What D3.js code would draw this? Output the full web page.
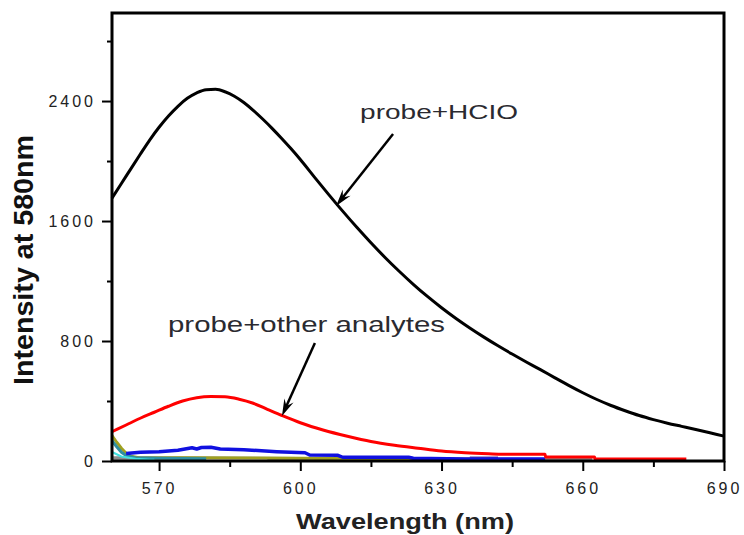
<!DOCTYPE html>
<html>
<head>
<meta charset="utf-8">
<script src="https://cdn.jsdelivr.net/npm/d3@7"></script>
<style>
  html, body { margin: 0; padding: 0; background: #fff; }
  svg { display: block; }
</style>
</head>
<body>
<svg id="chart" width="744" height="535"></svg>
<script>
// ---------------- data ----------------
const xTicks = [570, 600, 630, 660, 690];
const yTicks = [0, 800, 1600, 2400];
const xMinorTicks = [585, 615, 645, 675];
const yMinorTicks = [400, 1200, 2000, 2800];

const hcioWl = [560,562,564,566,568,570,572,574,576,578,580,582,584,586,588,590,592,594,596,598,600,603,606,609,612,615,618,621,624,627,630,633,636,639,642,645,648,651,654,657,660,663,666,669,672,675,678,681,684,687,690];
const hcioI  = [1753,1850,1948,2045,2140,2225,2300,2365,2418,2455,2476,2478,2462,2432,2390,2338,2280,2218,2152,2083,2010,1893,1778,1666,1558,1455,1357,1265,1178,1097,1022,952,887,826,768,713,660,609,556,504,455,410,370,335,303,276,252,231,210,188,166];

const otherWl = [560,563,566,569,572,575,578,581,584,587,590,593,596,600,605,610,615,620,625,630,635,640,643,652,652.1,662.5,662.6,682];
const otherI  = [195,240,285,325,365,400,422,430,428,412,385,345,305,255,205,165,130,105,85,66,55,48,45,45,27,27,13,13];

const blueWl = [563,566,570,574,577,578,579,581,583,588,595,601,602,608,609,623,624,635,652];
const blueI  = [50,58,62,72,88,80,90,92,80,75,62,55,40,38,25,25,18,13,13];

const oliveWl = [560,561,562,563,564,566,575,590,600,620,640];
const oliveI  = [170,125,85,52,32,20,22,20,18,15,12];

const tealWl = [560,561,562,563,565,570,580];
const tealI  = [135,95,58,36,22,18,15];

const cyanWl = [560,562,565,568,569];
const cyanI  = [60,30,15,8,8];

const grayWl = [560,580,600,620,640,660,662];
const grayI  = [20,18,15,12,10,8,8];

const whiteWl = [568,593];
const whiteI  = [6,6];

const brownWl = [603,607];
const brownI  = [10,10];

const greenWl = [629,632];
const greenI  = [16,16];

const purpleWl = [636,642];
const purpleI  = [20,20];

// annotations in data units
const labelHCIO = {text: "probe+HCIO", wl: 612.7, v: 2280};
const labelOther = {text: "probe+other analytes", wl: 571.9, v: 860};
const arrowHCIO = {fromWl: 619.7, fromV: 2180, toWl: 607.6, toV: 1700};
const arrowOther = {fromWl: 603.1, fromV: 787, toWl: 596.1, toV: 300};

// ---------------- drawing ----------------
const svg = d3.select("#chart");
const FONT = "'Liberation Sans', Arial, Helvetica, sans-serif";
const mLeft = 112, mRight = 724, mTop = 13, mBottom = 461;

const x = d3.scaleLinear().domain([560, 690]).range([mLeft, mRight]);
const y = d3.scaleLinear().domain([0, 2987]).range([mBottom, mTop]);

const smoothLine = d3.line().x(d => x(d[0])).y(d => y(d[1])).curve(d3.curveMonotoneX);
const straightLine = d3.line().x(d => x(d[0])).y(d => y(d[1]));
const zip = (a, b) => a.map((v, i) => [v, b[i]]);

const plot = svg.append("g");

function drawSeries(wl, I, color, width, gen) {
  plot.append("path")
    .datum(zip(wl, I))
    .attr("d", gen || straightLine)
    .attr("fill", "none")
    .attr("stroke", color)
    .attr("stroke-width", width)
    .attr("stroke-linejoin", "round");
}

drawSeries(grayWl, grayI, "#8c8c8c", 3.5);
drawSeries(whiteWl, whiteI, "#ffffff", 3);
drawSeries(brownWl, brownI, "#8b5a2b", 3);
drawSeries(greenWl, greenI, "#9acd32", 3);
drawSeries(purpleWl, purpleI, "#5a3aa0", 3);
drawSeries(oliveWl, oliveI, "#a0a020", 3);
drawSeries(tealWl, tealI, "#2f8fa0", 3);
drawSeries(cyanWl, cyanI, "#40e0e0", 2);
drawSeries(blueWl, blueI, "#1010e0", 3.5);
drawSeries(otherWl, otherI, "#ff0000", 3, smoothLine);
drawSeries(hcioWl, hcioI, "#000000", 3, smoothLine);

// frame
svg.append("rect")
  .attr("x", mLeft).attr("y", mTop)
  .attr("width", mRight - mLeft).attr("height", mBottom - mTop)
  .attr("fill", "none").attr("stroke", "#000").attr("stroke-width", 3);

// axes
const xAxis = svg.append("g").attr("transform", `translate(0,${mBottom})`)
  .call(d3.axisBottom(x).tickValues(xTicks).tickSize(10).tickPadding(12).tickFormat(d3.format("d")));
const xMinor = svg.append("g").attr("transform", `translate(0,${mBottom})`)
  .call(d3.axisBottom(x).tickValues(xMinorTicks).tickSize(6).tickFormat(""));
const yAxis = svg.append("g").attr("transform", `translate(${mLeft},0)`)
  .call(d3.axisLeft(y).tickValues(yTicks).tickSize(10).tickPadding(6).tickFormat(d3.format("d")));
const yMinor = svg.append("g").attr("transform", `translate(${mLeft},0)`)
  .call(d3.axisLeft(y).tickValues(yMinorTicks).tickSize(5).tickFormat(""));

[xAxis, xMinor, yAxis, yMinor].forEach(g => {
  g.select(".domain").remove();
  g.selectAll(".tick line").attr("stroke", "#000").attr("stroke-width", 2);
  g.selectAll(".tick text")
    .attr("font-family", FONT)
    .attr("font-size", 16)
    .attr("fill", "#222")
    .style("letter-spacing", "3px");
});

// axis titles
svg.append("text")
  .attr("x", (mLeft + mRight) / 2 - 13).attr("y", 529)
  .attr("text-anchor", "middle")
  .attr("font-family", FONT).attr("font-weight", "bold").attr("font-size", 22)
  .attr("fill", "#222")
  .attr("textLength", 218).attr("lengthAdjust", "spacingAndGlyphs")
  .text("Wavelength (nm)");

svg.append("text")
  .attr("transform", "translate(33,260) rotate(-90)")
  .attr("text-anchor", "middle")
  .attr("font-family", FONT).attr("font-weight", "bold").attr("font-size", 28)
  .attr("fill", "#111")
  .attr("textLength", 250).attr("lengthAdjust", "spacingAndGlyphs")
  .text("Intensity at 580nm");

// labels
svg.append("text")
  .attr("x", x(labelHCIO.wl)).attr("y", y(labelHCIO.v))
  .attr("font-family", FONT).attr("font-size", 21).attr("fill", "#2a2a30")
  .attr("textLength", 158).attr("lengthAdjust", "spacingAndGlyphs")
  .text(labelHCIO.text);
svg.append("text")
  .attr("x", x(labelOther.wl)).attr("y", y(labelOther.v))
  .attr("font-family", FONT).attr("font-size", 22).attr("fill", "#2a2a30")
  .attr("textLength", 277).attr("lengthAdjust", "spacingAndGlyphs")
  .text(labelOther.text);

// arrows
function drawArrow(a) {
  const x1 = x(a.fromWl), y1 = y(a.fromV), x2 = x(a.toWl), y2 = y(a.toV);
  const ang = Math.atan2(y2 - y1, x2 - x1);
  const L = 17, W = 5, notch = 11;
  svg.append("line")
    .attr("x1", x1).attr("y1", y1)
    .attr("x2", x2 - Math.cos(ang) * 6).attr("y2", y2 - Math.sin(ang) * 6)
    .attr("stroke", "#000").attr("stroke-width", 2.5);
  const ca = Math.cos(ang), sa = Math.sin(ang);
  const bx = x2 - ca * L, by = y2 - sa * L;
  const nx = x2 - ca * notch, ny = y2 - sa * notch;
  const pts = [
    [x2, y2],
    [bx - sa * W, by + ca * W],
    [nx, ny],
    [bx + sa * W, by - ca * W]
  ];
  svg.append("path")
    .attr("d", "M" + pts.map(p => p.join(",")).join("L") + "Z")
    .attr("fill", "#000");
}
drawArrow(arrowHCIO);
drawArrow(arrowOther);
</script>
</body>
</html>
